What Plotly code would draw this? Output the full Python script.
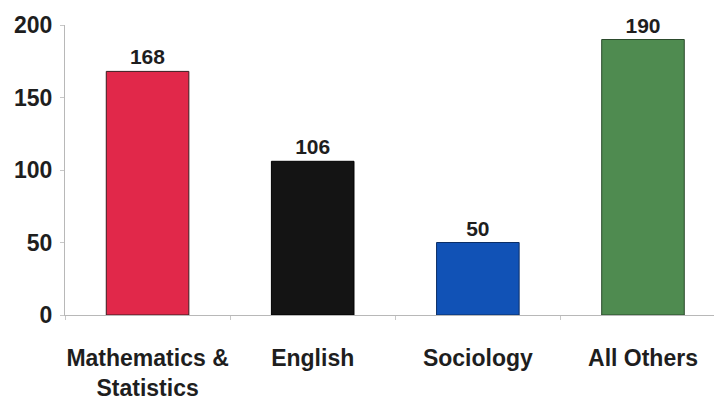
import plotly.graph_objects as go

categories = ["Mathematics &<br>Statistics", "English", "Sociology", "All Others"]
values = [168, 106, 50, 190]
colors = ["#e1284a", "#141414", "#1152b6", "#4f8b50"]
edge_colors = ["#3a1a1f", "#000000", "#0b2e66", "#2b4a2c"]
y_ticks = [0, 50, 100, 150, 200]

font_family = "Liberation Sans, Arial, sans-serif"

fig = go.Figure(
    go.Bar(
        x=categories,
        y=values,
        marker=dict(color=colors, line=dict(color=edge_colors, width=1)),
        text=[str(v) for v in values],
        textposition="outside",
        cliponaxis=False,
        textfont=dict(family=font_family, size=21, color="#1e1e1e", weight="bold"),
        width=0.5,
    )
)

fig.update_layout(
    width=714,
    height=401,
    margin=dict(l=65, r=0, t=25, b=86),
    paper_bgcolor="white",
    plot_bgcolor="white",
    showlegend=False,
    font=dict(family=font_family, size=21, color="#1e1e1e", weight="bold"),
)

fig.update_xaxes(
    range=[-0.5, 3.43],
    automargin=False,
    tickangle=0,
    showline=True,
    linecolor="#b8b8b8",
    linewidth=1,
    ticks="outside",
    tickson="boundaries",
    ticklen=4,
    tickcolor="#c8c8c8",
    showgrid=False,
    ticklabelstandoff=22,
    tickfont=dict(family=font_family, size=23, color="#1e1e1e", weight="bold"),
)

fig.update_yaxes(
    range=[0, 200],
    automargin=False,
    tickvals=y_ticks,
    showline=True,
    linecolor="#b8b8b8",
    linewidth=1,
    ticks="outside",
    ticklen=4,
    tickcolor="#c8c8c8",
    showgrid=False,
    zeroline=False,
    ticklabelstandoff=3,
    tickfont=dict(family=font_family, size=23, color="#1e1e1e", weight="bold"),
)

fig.write_html("out.html")
